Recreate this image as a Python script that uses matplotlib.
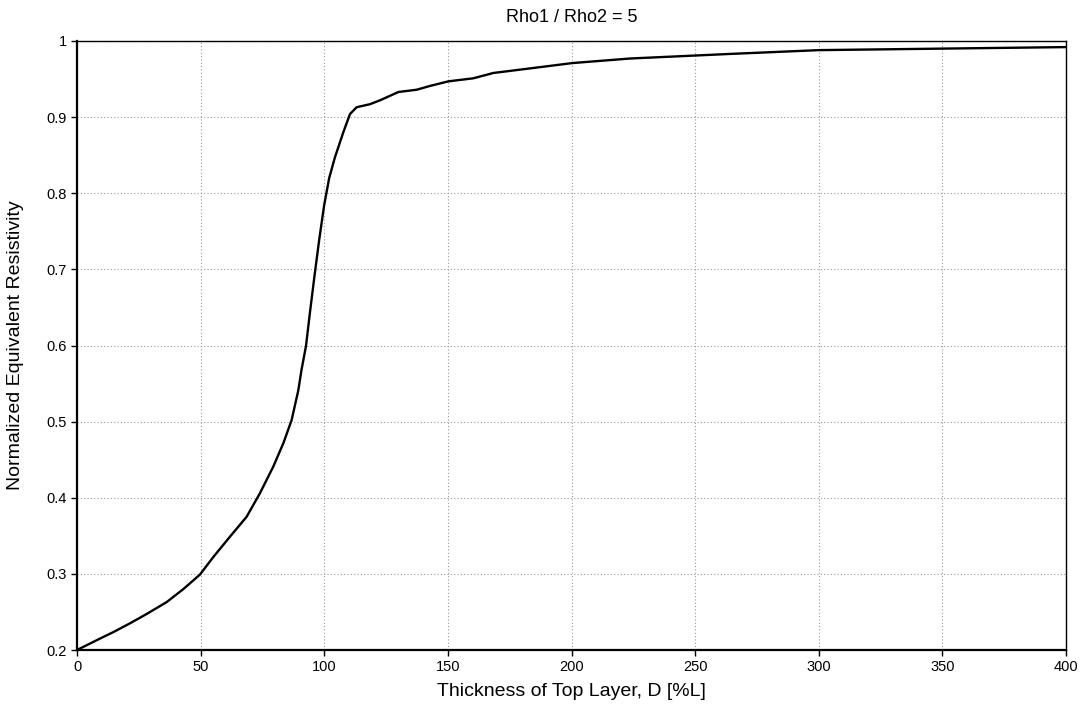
import matplotlib
matplotlib.use("Agg")
import matplotlib.pyplot as plt
import numpy as np

plt.rcParams['font.family'] = ['Liberation Sans', 'DejaVu Sans']

thickness = [0, 9.3, 15, 21.4, 28, 36.3, 43, 49.7, 55.1, 61.9, 68.6, 74, 79.4, 83.5, 86.8, 89.5,
             90.8, 92.6, 94.2, 96, 98, 100, 102, 104.3, 107.7, 110.4, 113.1, 118.5, 122.5, 130,
             137.4, 142.8, 150.2, 160.3, 168.4, 183.2, 200.3, 223.7, 250.6, 264, 300, 350, 400]
resistivity = [0.2, 0.215, 0.224, 0.235, 0.247, 0.263, 0.28, 0.299, 0.322, 0.349, 0.375, 0.406,
               0.441, 0.472, 0.502, 0.541, 0.568, 0.599, 0.643, 0.69, 0.74, 0.785, 0.82, 0.847,
               0.88, 0.904, 0.913, 0.917, 0.922, 0.933, 0.936, 0.941, 0.947, 0.951, 0.958,
               0.964, 0.971, 0.977, 0.981, 0.983, 0.988, 0.990, 0.992]

x_ticks = [0, 50, 100, 150, 200, 250, 300, 350, 400]
y_ticks = [0.2, 0.3, 0.4, 0.5, 0.6, 0.7, 0.8, 0.9, 1.0]
y_tick_labels = ['0.2', '0.3', '0.4', '0.5', '0.6', '0.7', '0.8', '0.9', '1']

fig = plt.figure(figsize=(10.88, 7.19), dpi=100)
ax = fig.add_axes([77/1088, 1-650/719, (1066-77)/1088, (650-41)/719])

ax.plot(thickness, resistivity, color='black', linewidth=1.7, solid_joinstyle='round')

ax.set_xlim(0, 400)
ax.set_ylim(0.2, 1.0)
ax.set_xticks(x_ticks)
ax.set_yticks(y_ticks)
ax.set_yticklabels(y_tick_labels)
ax.grid(True, color='#999999', linestyle=(0, (1, 2)), linewidth=0.8)
ax.tick_params(direction='out', length=4, width=1, labelsize=10.5, colors='black')
for side in ['left', 'bottom']:
    ax.spines[side].set_linewidth(1.6)
for side in ['top', 'right']:
    ax.spines[side].set_linewidth(1.0)

ax.set_title('Rho1 / Rho2 = 5', fontsize=13, pad=14)
ax.set_xlabel('Thickness of Top Layer, D [%L]', fontsize=14, labelpad=6)
ax.set_ylabel('Normalized Equivalent Resistivity', fontsize=14, labelpad=16)

fig.savefig('out.png', dpi=100)
